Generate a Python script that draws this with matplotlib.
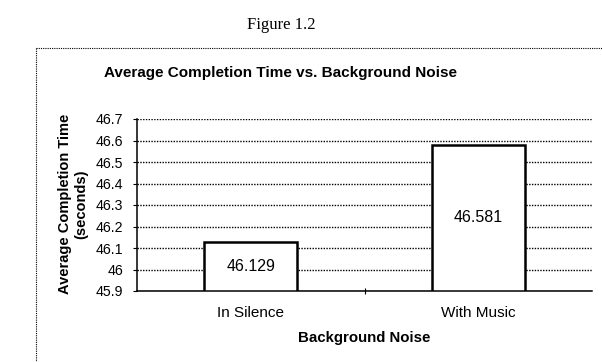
import matplotlib
matplotlib.use("Agg")
import matplotlib.pyplot as plt
from matplotlib.lines import Line2D

categories = ["In Silence", "With Music"]
values = [46.129, 46.581]
yticks = [45.9, 46.0, 46.1, 46.2, 46.3, 46.4, 46.5, 46.6, 46.7]
ytick_labels = ["45.9", "46", "46.1", "46.2", "46.3", "46.4", "46.5", "46.6", "46.7"]

plt.rcParams["font.family"] = ["Liberation Sans", "DejaVu Sans"]

W, H = 602, 362
fig = plt.figure(figsize=(W / 100, H / 100), dpi=100)
fig.patch.set_facecolor("white")

ax = fig.add_axes([137 / W, 1 - 291 / H, (592 - 137) / W, (291 - 119) / H])

x = list(range(len(categories)))
ax.bar(x, [v - 45.9 for v in values], bottom=45.9, width=0.41,
       color="white", edgecolor="black", linewidth=1.8, zorder=3)
for xi, v in zip(x, values):
    ax.text(xi, (45.9 + v) / 2, f"{v:.3f}", ha="center", va="center",
            fontsize=11.5, zorder=4)

ax.set_xlim(-0.5, 1.5)
ax.set_ylim(45.9, 46.7)
ax.set_yticks(yticks)
ax.set_yticklabels(ytick_labels, fontsize=10.2)
ax.set_xticks(x)
ax.set_xticklabels(categories, fontsize=11)
ax.tick_params(axis="x", length=0, pad=11)
ax.tick_params(axis="y", length=3, width=0.8, direction="out", pad=7)
ax.set_xticks([0.5], minor=True)
ax.tick_params(axis="x", which="minor", length=4, width=0.8, direction="inout")

ax.yaxis.grid(True, color="black", linestyle=(0, (1, 1)), linewidth=1.0, zorder=0)
ax.set_axisbelow(True)
for side in ("top", "right"):
    ax.spines[side].set_visible(False)
ax.spines["left"].set_linewidth(1.1)
ax.spines["bottom"].set_linewidth(1.1)

fig.text(73 / W, 1 - 204 / H, "Average Completion Time\n(seconds)", rotation=90,
         ha="center", va="center", multialignment="center", fontsize=10.5,
         fontweight="bold", linespacing=1.2)
fig.text(364 / W, 1 - 338 / H, "Background Noise", ha="center", va="center",
         fontsize=10.8, fontweight="bold")

fig.text(280 / W, 1 - 73 / H, "Average Completion Time vs. Background Noise",
         ha="center", va="center", fontsize=11, fontweight="bold")
fig.text(281 / W, 1 - 25 / H, "Figure 1.2", ha="center", va="center",
         fontsize=12, family=["Liberation Serif", "DejaVu Serif"])

# chart area frame (dotted, runs off the right and bottom edges)
fig.add_artist(Line2D([36 / W, 1.0], [1 - 48 / H, 1 - 48 / H], transform=fig.transFigure,
                      color="black", linestyle=(0, (1, 1)), linewidth=0.8))
fig.add_artist(Line2D([36 / W, 36 / W], [1 - 48 / H, 0.0], transform=fig.transFigure,
                      color="black", linestyle=(0, (1, 1)), linewidth=0.8))

fig.savefig("out.png", dpi=100, facecolor="white")
